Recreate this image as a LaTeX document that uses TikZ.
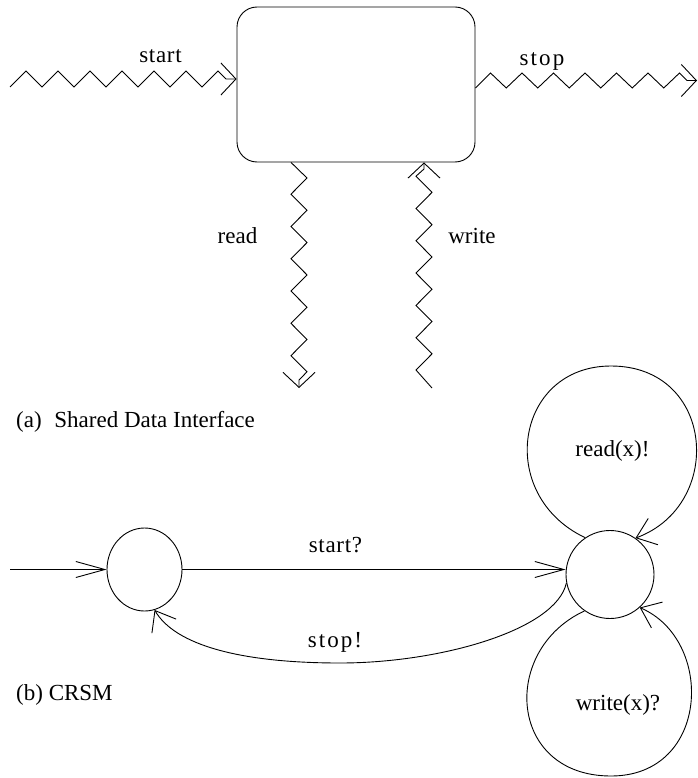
\documentclass[tikz,border=0pt]{standalone}
\usepackage{fontspec}
\setmainfont{Liberation Serif}
\newfontfamily\wideserif[LetterSpace=3]{Liberation Serif}
\newfontfamily\widerserif[LetterSpace=9]{Liberation Serif}
\usetikzlibrary{arrows.meta,shapes.geometric}

\tikzset{
  wire/.style={line width=0.9pt, line join=miter},
  narrowtip/.style={-{Straight Barb[length=29pt,width=16pt]}},
  widetip/.style={-{Straight Barb[length=15pt,width=32pt]}},
  looptip/.style={-{Straight Barb[length=18pt,width=28pt]}},
  lbl/.style={inner sep=0pt, font=\fontsize{23}{27}\selectfont},
  state/.style={draw, line width=0.9pt, inner sep=0pt},
}

\begin{document}
\begin{tikzpicture}[x=1pt, y=-1pt]
\useasboundingbox (0,0) rectangle (697,778);

% ---------- (a) shared data interface ----------
\node[draw, line width=0.9pt, rounded corners=20pt, minimum width=238pt,
      minimum height=155pt, inner sep=0pt] (box) at (356,84.5) {};

\coordinate (startfree) at (10,87);
\coordinate (stopend)   at (697,80.5);
\coordinate (readfree)  at (299,388);
\coordinate (writefree) at (432,388);

% start: zigzag into the box
\draw[wire, widetip] (startfree)
  \foreach \k in {0,...,5} { -- ({26+32*\k},71) -- ({42+32*\k},87) }
  -- (218,71) -- (226,79) -- ([yshift=5.5pt]box.west);

% stop: zigzag out of the box
\draw[wire, widetip] ([yshift=-3.5pt]box.east)
  \foreach \k in {0,...,5} { -- ({490.5+31.5*\k},73) -- ({506.25+31.5*\k},88) }
  -- (679.5,73) -- (687,80.5) -- (stopend);

% read: zigzag down from the box
\draw[wire, widetip] ([xshift=-65pt]box.south)
  \foreach \k in {0,...,5} { -- (307,{178+32.3*\k}) -- (291,{194.15+32.3*\k}) }
  -- (307,371.8) -- (299,380) -- (readfree);

% write: zigzag up into the box
\draw[wire, widetip] (writefree)
  \foreach \k in {0,...,5} { -- (416,{370-32.3*\k}) -- (432,{353.85-32.3*\k}) }
  -- (416,176.2) -- (424,169) -- ([xshift=68pt]box.south);

\node[lbl, anchor=base] (lstart) at (160.5,63) {\wideserif start};
\node[lbl, anchor=base] (lstop)  at (542,66)   {\widerserif stop};
\node[lbl, anchor=base] (lread)  at (237.5,243) {read};
\node[lbl, anchor=base] (lwrite) at (472,243)  {write};

\node[lbl, anchor=base west] (capa) at (16,427) {(a)\hspace{0.3em} Shared Data Interface};

% ---------- (b) CRSM ----------
\node[state, ellipse, minimum width=75pt, minimum height=83pt] (c1) at (144.5,569.5) {};
\node[state, circle, minimum size=88pt] (c2) at (610,574.5) {};

\coordinate (initfree) at (10,569.5);
\draw[wire, narrowtip] (initfree) -- (c1.west);

% start?
\draw[wire, narrowtip] (c1.east) -- (c1.east -| c2.west);

% stop!
\draw[wire, looptip] (c2.191)
  .. controls (556,630) and (440,663) .. (340,663)
  .. controls (240,663) and (175,645) .. (c1.284);

% read(x)! self loop
\draw[wire, looptip] (c2.124)
  .. controls (495,495) and (515,366) .. (611,366)
  .. controls (715,366) and (725,505) .. (c2.55);

% write(x)? self loop
\draw[wire, looptip] (c2.235)
  .. controls (500,650) and (508,776) .. (611,776)
  .. controls (710,776) and (715,640) .. (c2.-48);

\node[lbl, anchor=base] (lstartq) at (335.5,552) {\wideserif start?};
\node[lbl, anchor=base] (lstopx)  at (335,647)   {\widerserif stop!};
\node[lbl, anchor=base] (lreadx)  at (612.5,456) {read(x)!};
\node[lbl, anchor=base] (lwritex) at (618,710)   {write(x)?};

\node[lbl, anchor=base west] (capb) at (16,700) {(b) CRSM};
\end{tikzpicture}
\end{document}
